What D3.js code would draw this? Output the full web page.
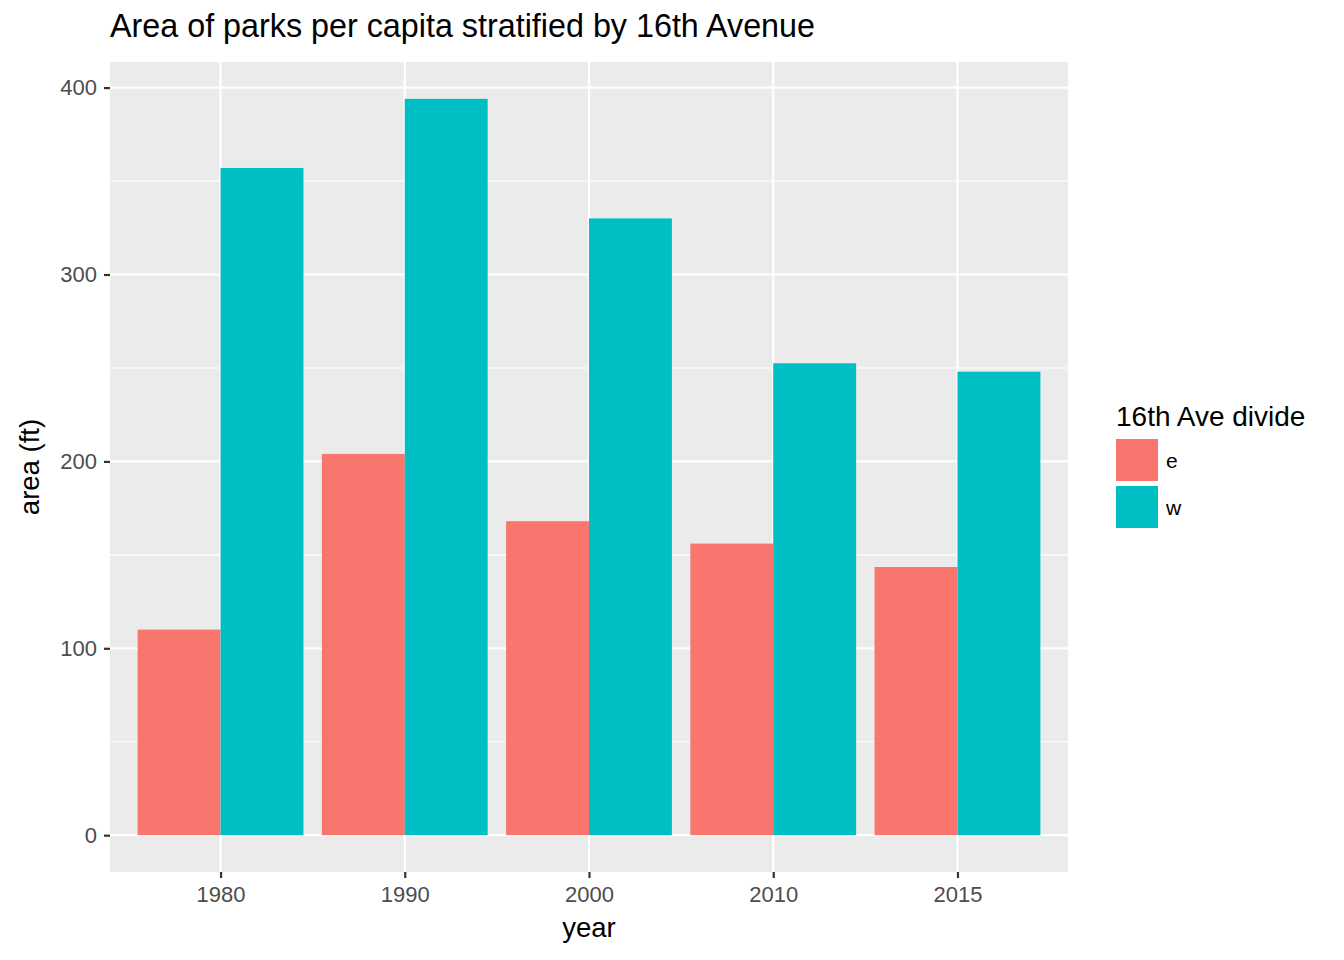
<!DOCTYPE html>
<html>
<head>
<meta charset="utf-8">
<script src="https://cdn.jsdelivr.net/npm/d3@7"></script>
<style>
  body { margin: 0; background: #fff; }
  text { font-family: "Liberation Sans", Arial, sans-serif; }
</style>
</head>
<body>
<svg id="chart" width="1344" height="960"></svg>
<script>
const years = ["1980", "1990", "2000", "2010", "2015"];
const groups = ["e", "w"];
const eastArea = [110, 204, 168, 156, 143.5];
const westArea = [357, 394, 330, 252.5, 248];
const yTicks = [0, 100, 200, 300, 400];
const colors = ["#F8766D", "#00BFC4"];

const svg = d3.select("#chart");
const panel = {left: 110, right: 1068, top: 62, bottom: 872};

// ggplot style: 0.6 expansion on discrete x, 5% on continuous y
const x = d3.scaleLinear()
  .domain([-0.6, years.length - 1 + 0.6])
  .range([panel.left, panel.right]);
const ymax = d3.max(westArea.concat(eastArea));
const pad = ymax * 0.05;
const y = d3.scaleLinear()
  .domain([-pad, ymax + pad])
  .range([panel.bottom, panel.top]);

svg.append("rect")
  .attr("x", panel.left).attr("y", panel.top)
  .attr("width", panel.right - panel.left)
  .attr("height", panel.bottom - panel.top)
  .attr("fill", "#EBEBEB");

// minor grid
const minor = yTicks.slice(0, -1).map(d => d + 50);
svg.append("g").selectAll("line").data(minor).join("line")
  .attr("x1", panel.left).attr("x2", panel.right)
  .attr("y1", d => y(d)).attr("y2", d => y(d))
  .attr("stroke", "#fff").attr("stroke-width", 1.1);

svg.append("g").selectAll("line").data(yTicks).join("line")
  .attr("x1", panel.left).attr("x2", panel.right)
  .attr("y1", d => y(d)).attr("y2", d => y(d))
  .attr("stroke", "#fff").attr("stroke-width", 2.2);

svg.append("g").selectAll("line").data(years).join("line")
  .attr("x1", (d, i) => x(i)).attr("x2", (d, i) => x(i))
  .attr("y1", panel.top).attr("y2", panel.bottom)
  .attr("stroke", "#fff").attr("stroke-width", 2.2);

// bars
const band = x(1) - x(0);
const bw = band * 0.9 / 2;
const rows = [];
years.forEach((yr, i) => {
  rows.push({i, g: 0, v: eastArea[i]});
  rows.push({i, g: 1, v: westArea[i]});
});
svg.append("g").selectAll("rect").data(rows).join("rect")
  .attr("x", d => x(d.i) - bw + d.g * bw)
  .attr("width", bw)
  .attr("y", d => y(d.v))
  .attr("height", d => y(0) - y(d.v))
  .attr("fill", d => colors[d.g]);

// axes
const yAxis = svg.append("g")
  .attr("transform", `translate(${panel.left},0)`)
  .call(d3.axisLeft(y).tickValues(yTicks).tickSize(6).tickPadding(7));
const xAxis = svg.append("g")
  .attr("transform", `translate(0,${panel.bottom})`)
  .call(d3.axisBottom(x).tickValues(d3.range(years.length)).tickFormat(i => years[i]).tickSize(6).tickPadding(8));
[yAxis, xAxis].forEach(a => {
  a.select(".domain").remove();
  a.selectAll(".tick line").attr("stroke", "#333").attr("stroke-width", 2.2);
  a.selectAll(".tick text").attr("fill", "#4D4D4D").style("font-size", "22px")
    .style("font-family", "'Liberation Sans', Arial, sans-serif");
});

svg.append("text")
  .attr("x", (panel.left + panel.right) / 2).attr("y", 937)
  .attr("text-anchor", "middle").style("font-size", "27.5px")
  .text("year");
svg.append("text")
  .attr("transform", `translate(39,${(panel.top + panel.bottom) / 2}) rotate(-90)`)
  .attr("text-anchor", "middle").style("font-size", "27.5px")
  .text("area (ft)");
svg.append("text")
  .attr("x", 110).attr("y", 37)
  .style("font-size", "32.3px")
  .text("Area of parks per capita stratified by 16th Avenue");

// legend
const legend = svg.append("g").attr("transform", "translate(1116,0)");
legend.append("text").attr("x", 0).attr("y", 426)
  .style("font-size", "28px").text("16th Ave divide");
legend.selectAll("rect").data(groups).join("rect")
  .attr("x", 0).attr("y", (d, i) => 439 + i * 47)
  .attr("width", 42).attr("height", 42)
  .attr("fill", (d, i) => colors[i]);
legend.selectAll("text.lab").data(groups).join("text")
  .attr("class", "lab")
  .attr("x", 50).attr("y", (d, i) => 468 + i * 47)
  .style("font-size", "21px").text(d => d);
</script>
</body>
</html>
